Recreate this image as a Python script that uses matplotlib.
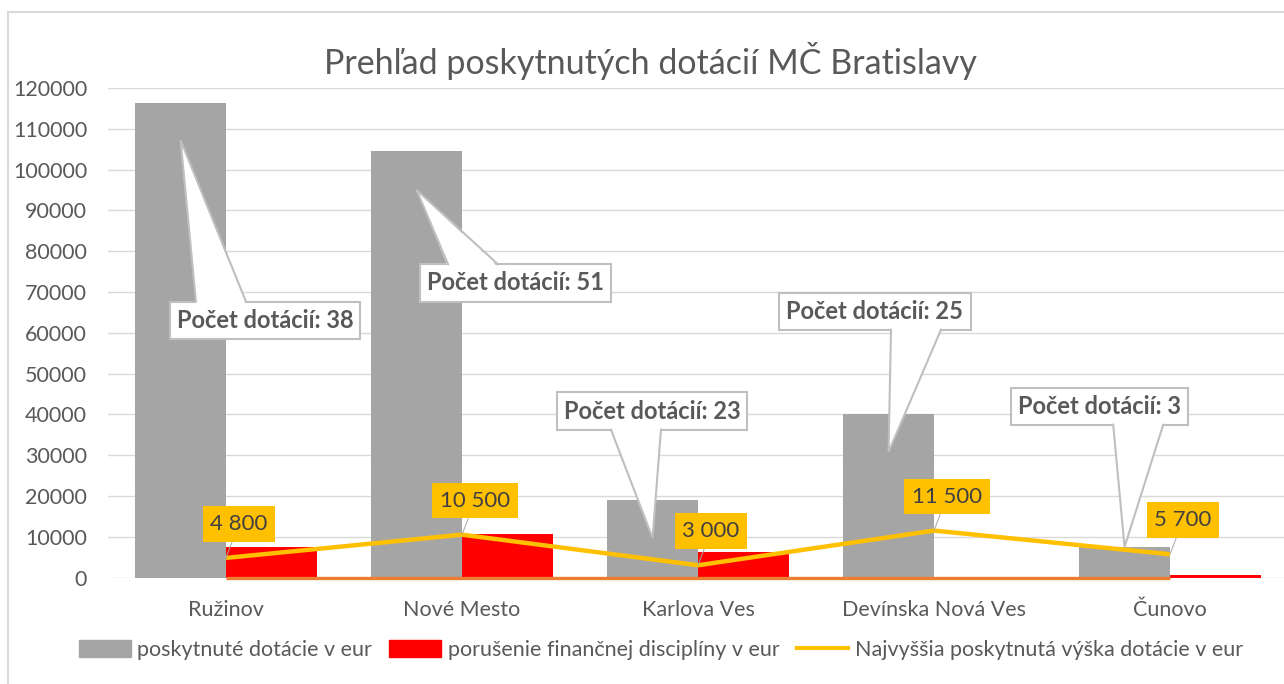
import numpy as np
import matplotlib
matplotlib.use('Agg')
import matplotlib.pyplot as plt
from matplotlib.patches import Rectangle, Patch, Polygon
from matplotlib.lines import Line2D

plt.rcParams['font.family'] = ['Lato', 'DejaVu Sans']

# data
districts = ['Ružinov', 'Nové Mesto', 'Karlova Ves', 'Devínska Nová Ves', 'Čunovo']
granted = [116300, 104600, 19000, 40200, 7500]          # poskytnuté dotácie v eur
violations = [7400, 10600, 6200, 0, 600]                # porušenie finančnej disciplíny v eur
max_grant = [4800, 10500, 3000, 11500, 5700]            # najvyššia poskytnutá výška dotácie
hidden = [0, 0, 0, 0, 0]                                # unnamed series drawn at zero
grant_counts = [38, 51, 23, 25, 3]

# callout layout: box centre (x offset from category, y), pointer tip y,
# and where the pointer base sits on the box edge (pixels from box centre)
callout_box = [(0.165, 63100), (0.225, 72200), (-0.195, 40800), (-0.25, 65300), (-0.30, 42000)]
callout_tip = [107200, 95000, 9700, 30800, 7500]
callout_base = [-44, -42, -16, 41, 39]

W, H = 1284, 684
fig = plt.figure(figsize=(W / 100, H / 100), dpi=100)
ax = fig.add_axes([108 / W, (H - 577.5) / H, 1180 / W, 489.5 / H])

gray, red, yellow, orange = '#A5A5A5', '#FF0000', '#FFC000', '#ED7D31'
txt = '#595959'
edge = '#BFBFBF'

x = np.arange(len(districts))
bw = 0.385
ax.bar(x - bw / 2, granted, bw, color=gray, zorder=2)
ax.bar(x + bw / 2, violations, bw, color=red, zorder=2)
ax.plot(x, hidden, color=orange, lw=2.4, zorder=3, solid_capstyle='butt', clip_on=False)
ax.plot(x, max_grant, color=yellow, lw=3.2, zorder=4, solid_capstyle='butt')

ax.set_xlim(-0.5, 4.5)
ax.set_ylim(0, 120000)
ax.set_yticks(np.arange(0, 120001, 10000))
ax.set_xticks(x)
ax.set_xticklabels(districts)
ax.grid(axis='y', color='#D9D9D9', lw=1.0, zorder=0)
ax.set_axisbelow(True)
for s in ax.spines.values():
    s.set_visible(False)
ax.tick_params(axis='both', length=0, labelsize=15.5, labelcolor=txt)
ax.tick_params(axis='y', pad=15)
ax.tick_params(axis='x', pad=16)

# yellow value labels
for xi, v in zip(x, max_grant):
    ax.annotate(f'{v:,}'.replace(',', ' '), xy=(xi, v), xytext=(13, 34),
                textcoords='offset pixels', ha='center', va='center',
                fontsize=16, color='#404040', zorder=9,
                bbox=dict(boxstyle='square,pad=0.35', fc=yellow, ec='none'),
                arrowprops=dict(arrowstyle='-', color='#A6A6A6', lw=0.7,
                                shrinkA=0, shrinkB=0))

# callouts with wedge pointers
inv = ax.transData.inverted()
for xi, n, (bx, by), ty, off in zip(x, grant_counts, callout_box, callout_tip, callout_base):
    t = ax.text(xi + bx, by, f'Počet dotácií: {n}', ha='center', va='center',
                fontsize=17, fontweight='bold', color=txt, zorder=6,
                bbox=dict(boxstyle='square,pad=0.3', fc='white', ec=edge, lw=1.5))
    fig.canvas.draw()
    bb = t.get_bbox_patch().get_window_extent()
    tp = ax.transData.transform((xi - bw / 2, ty))
    above = tp[1] > bb.y1
    ey = bb.y1 if above else bb.y0
    inward = -3 if above else 3
    cx = (bb.x0 + bb.x1) / 2 + off
    fill_pts = inv.transform([(cx - 25, ey + inward), tp, (cx + 25, ey + inward)])
    ax.add_patch(Polygon(fill_pts, closed=True, fc='white', ec='none', zorder=7))
    line_pts = inv.transform([(cx - 25, ey), tp, (cx + 25, ey)])
    ax.plot(line_pts[:, 0], line_pts[:, 1], color=edge, lw=1.5, zorder=8,
            solid_joinstyle='miter')

fig.text(650 / W, 1 - 61 / H, 'Prehľad poskytnutých dotácií MČ Bratislavy',
         ha='center', va='center', fontsize=24.5, color=txt)

handles = [Patch(color=gray), Patch(color=red), Line2D([], [], color=yellow, lw=3)]
labels = ['poskytnuté dotácie v eur', 'porušenie finančnej disciplíny v eur',
          'Najvyššia poskytnutá výška dotácie v eur']
fig.legend(handles, labels, loc='center', bbox_to_anchor=(661 / W, 1 - 650 / H),
           ncol=3, frameon=False, fontsize=15.5, labelcolor=txt,
           handlelength=2.4, handleheight=0.8, handletextpad=0.3, columnspacing=0.8)

fig.patches.append(Rectangle((8 / W, -0.1), 1.5, 1.1 - 12 / H, fill=False,
                             ec='#D9D9D9', lw=1.5, transform=fig.transFigure))

fig.savefig('out.png', dpi=100)
